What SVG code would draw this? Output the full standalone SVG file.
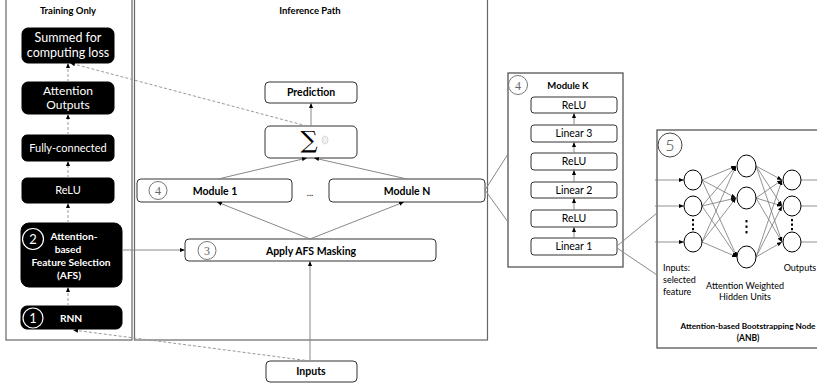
<svg xmlns="http://www.w3.org/2000/svg" width="817" height="387" viewBox="0 0 817 387">
<style>
text{font-family:Lato,"Liberation Sans",sans-serif;text-anchor:middle}
.panel{fill:#fff;stroke:#666;stroke-width:1.2}
.blk{fill:#000;stroke:#000}
.wt{fill:#fff;font-size:11px}
.wb{fill:#fff;font-size:10.2px;font-weight:bold}
.box{fill:#fff;stroke:#333;stroke-width:1}
.bt{fill:#000;font-size:10.5px;font-weight:bold}
.rt{fill:#000;font-size:10.5px}
.ttl{fill:#000;font-size:9.5px;font-weight:bold}
.sm{fill:#000;font-size:9px}
.num{fill:none;stroke:#777;stroke-width:1}
.numt{fill:#666;font-family:"Liberation Serif",serif;font-size:12px}
.ln{fill:none;stroke:#888;stroke-width:1}
.dl{fill:none;stroke:#999;stroke-width:1;stroke-dasharray:3 2}
.nn{fill:#fff;stroke:#000;stroke-width:1}
.nl{fill:none;stroke:#777;stroke-width:0.8}
.dot{fill:#000}
</style>
<defs>
<marker id="ah" viewBox="0 0 10 10" refX="10" refY="5" markerWidth="5" markerHeight="5" markerUnits="userSpaceOnUse" orient="auto"><path d="M0,1 L10,5 L0,9 z" fill="#000"/></marker>
</defs>
<rect x="0" y="0" width="817" height="387" fill="#fff"/>

<g id="panel-training">
<rect class="panel" x="6" y="-2" width="126" height="342"/>
<text class="ttl" x="68" y="14">Training Only</text>
</g>
<g id="panel-inference">
<rect class="panel" x="134.5" y="-2" width="353" height="342"/>
<text class="ttl" x="310" y="14">Inference Path</text>
</g>

<g id="summed">
<rect class="blk" x="22" y="28" width="92" height="35" rx="6"/>
<text class="wt" x="68" y="42" style="font-size:12.5px">Summed for</text>
<text class="wt" x="68" y="57" style="font-size:12.5px">computing loss</text>
</g>
<g id="attention-outputs">
<rect class="blk" x="22" y="82" width="92" height="32" rx="6"/>
<text class="wt" x="68" y="95" style="font-size:12px">Attention</text>
<text class="wt" x="68" y="109" style="font-size:12px">Outputs</text>
</g>
<g id="fully-connected">
<rect class="blk" x="22" y="135" width="92" height="26" rx="5"/>
<text class="wt" x="68" y="152">Fully-connected</text>
</g>
<g id="relu-left">
<rect class="blk" x="22" y="178" width="92" height="25" rx="5"/>
<text class="wt" x="68" y="194">ReLU</text>
</g>
<g id="afs">
<rect class="blk" x="21" y="223" width="101" height="64" rx="8"/>
<circle cx="33" cy="239" r="10.5" fill="none" stroke="#fff" stroke-width="1.2"/>
<text class="wt" x="33" y="244" style="font-size:13px">2</text>
<text class="wb" x="74" y="240">Attention-</text>
<text class="wb" x="68" y="253">based</text>
<text class="wb" x="71" y="266">Feature Selection</text>
<text class="wb" x="69" y="279">(AFS)</text>
</g>
<g id="rnn">
<rect class="blk" x="21" y="306" width="101" height="23" rx="6"/>
<circle cx="33" cy="318" r="10" fill="none" stroke="#fff" stroke-width="1.2"/>
<text class="wt" x="33" y="323" style="font-size:13px">1</text>
<text class="wb" x="71" y="322">RNN</text>
</g>

<g id="prediction">
<rect class="box" x="265" y="82" width="92" height="21" rx="4"/>
<text class="bt" x="311" y="96">Prediction</text>
</g>
<g id="sum">
<rect class="box" x="265" y="126" width="92" height="32" rx="5"/>
<text x="309" y="148" style="font-family:'DejaVu Serif',serif;font-size:24px;fill:#000">∑</text>
<ellipse cx="325" cy="140" rx="3" ry="4" fill="none" stroke="#ccc" stroke-width="0.8"/>
<ellipse cx="325" cy="140" rx="1.4" ry="2.6" fill="none" stroke="#ccc" stroke-width="0.6"/>
</g>
<g id="module-1">
<rect class="box" x="137" y="179" width="155" height="23" rx="4"/>
<circle class="num" cx="158" cy="190.5" r="9"/>
<text class="numt" x="158" y="195">4</text>
<text class="bt" x="215" y="195">Module 1</text>
</g>
<g id="ellipsis">
<text class="sm" x="310" y="196">...</text>
</g>
<g id="module-n">
<rect class="box" x="329" y="179" width="156" height="23" rx="4"/>
<text class="bt" x="407" y="195">Module N</text>
</g>
<g id="apply-afs">
<rect class="box" x="185" y="239" width="251" height="22" rx="4"/>
<circle class="num" cx="207" cy="250.5" r="9"/>
<text class="numt" x="207" y="255">3</text>
<text class="bt" x="311" y="255">Apply AFS Masking</text>
</g>
<g id="inputs">
<rect class="box" x="266" y="361" width="91" height="21" rx="4"/>
<text class="bt" x="311" y="375">Inputs</text>
</g>

<g id="module-k">
<rect x="508" y="73" width="115" height="194" fill="#fff" stroke="#555" stroke-width="1.3"/>
<circle class="num" cx="518" cy="85" r="9.5"/>
<text class="numt" x="518" y="89.5">4</text>
<text class="ttl" x="568" y="89">Module K</text>
<rect class="box" x="531" y="97" width="86" height="16" rx="3"/>
<text class="rt" x="574" y="108.5">ReLU</text>
<rect class="box" x="531" y="125" width="86" height="17" rx="3"/>
<text class="rt" x="574" y="137">Linear 3</text>
<rect class="box" x="531" y="153" width="86" height="17" rx="3"/>
<text class="rt" x="574" y="165">ReLU</text>
<rect class="box" x="531" y="182" width="86" height="16" rx="3"/>
<text class="rt" x="574" y="193.5">Linear 2</text>
<rect class="box" x="531" y="210" width="86" height="17" rx="3"/>
<text class="rt" x="574" y="222">ReLU</text>
<rect class="box" x="531" y="238" width="86" height="17" rx="3"/>
<text class="rt" x="574" y="250">Linear 1</text>
</g>

<g id="anb">
<rect x="657" y="130" width="170" height="218" fill="#fff" stroke="#555" stroke-width="1.3"/>
<circle cx="670" cy="145" r="12" fill="none" stroke="#444" stroke-width="1"/>
<text x="670" y="151" style="font-size:16px;fill:#444;font-weight:300">5</text>
<g id="anb-edges">
<line class="nl" x1="702" y1="180" x2="736" y2="166" marker-end="url(#ah)"/>
<line class="nl" x1="702" y1="180" x2="736" y2="198" marker-end="url(#ah)"/>
<line class="nl" x1="702" y1="180" x2="737" y2="257" marker-end="url(#ah)"/>
<line class="nl" x1="702" y1="206" x2="736" y2="166" marker-end="url(#ah)"/>
<line class="nl" x1="702" y1="206" x2="736" y2="198" marker-end="url(#ah)"/>
<line class="nl" x1="702" y1="206" x2="737" y2="257" marker-end="url(#ah)"/>
<line class="nl" x1="702" y1="242" x2="736" y2="166" marker-end="url(#ah)"/>
<line class="nl" x1="702" y1="242" x2="736" y2="198" marker-end="url(#ah)"/>
<line class="nl" x1="702" y1="242" x2="737" y2="257" marker-end="url(#ah)"/>
<line class="nl" x1="756" y1="166" x2="782" y2="180" marker-end="url(#ah)"/>
<line class="nl" x1="756" y1="166" x2="782" y2="206" marker-end="url(#ah)"/>
<line class="nl" x1="756" y1="166" x2="782" y2="242" marker-end="url(#ah)"/>
<line class="nl" x1="756" y1="198" x2="782" y2="180" marker-end="url(#ah)"/>
<line class="nl" x1="756" y1="198" x2="782" y2="206" marker-end="url(#ah)"/>
<line class="nl" x1="756" y1="198" x2="782" y2="242" marker-end="url(#ah)"/>
<line class="nl" x1="756" y1="257" x2="782" y2="180" marker-end="url(#ah)"/>
<line class="nl" x1="756" y1="257" x2="782" y2="206" marker-end="url(#ah)"/>
<line class="nl" x1="756" y1="257" x2="782" y2="242" marker-end="url(#ah)"/>
<line class="nl" x1="655" y1="180" x2="684" y2="180" marker-end="url(#ah)"/>
<line class="nl" x1="655" y1="206" x2="684" y2="206" marker-end="url(#ah)"/>
<line class="nl" x1="655" y1="242" x2="684" y2="242" marker-end="url(#ah)"/>
<line class="nl" x1="801" y1="180" x2="817" y2="180"/>
<line class="nl" x1="801" y1="206" x2="817" y2="206"/>
<line class="nl" x1="801" y1="242" x2="817" y2="242"/>
</g>
<ellipse class="nn" cx="693" cy="180" rx="9" ry="10"/>
<ellipse class="nn" cx="693" cy="206" rx="9" ry="10"/>
<ellipse class="nn" cx="693" cy="242" rx="9" ry="10"/>
<ellipse class="nn" cx="746.5" cy="166" rx="9.5" ry="11"/>
<ellipse class="nn" cx="746.5" cy="198" rx="9.5" ry="11"/>
<ellipse class="nn" cx="746.5" cy="257" rx="9.5" ry="11"/>
<ellipse class="nn" cx="792" cy="180" rx="9" ry="10"/>
<ellipse class="nn" cx="792" cy="206" rx="9" ry="10"/>
<ellipse class="nn" cx="792" cy="242" rx="9" ry="10"/>
<rect class="dot" x="692" y="219" width="2" height="2.2"/>
<rect class="dot" x="692" y="223.5" width="2" height="2.2"/>
<rect class="dot" x="692" y="228" width="2" height="2.2"/>
<rect class="dot" x="745.5" y="220" width="2" height="2.4"/>
<rect class="dot" x="745.5" y="225.5" width="2" height="2.4"/>
<rect class="dot" x="745.5" y="231" width="2" height="2.4"/>
<rect class="dot" x="791" y="219" width="2" height="2.2"/>
<rect class="dot" x="791" y="223.5" width="2" height="2.2"/>
<rect class="dot" x="791" y="228" width="2" height="2.2"/>
<text class="sm" x="663" y="271" style="text-anchor:start">Inputs:</text>
<text class="sm" x="663" y="283" style="text-anchor:start">selected</text>
<text class="sm" x="663" y="295" style="text-anchor:start">feature</text>
<text class="sm" x="745" y="289">Attention Weighted</text>
<text class="sm" x="745" y="300">Hidden Units</text>
<text class="sm" x="800" y="271">Outputs</text>
<text class="sm" x="748" y="329" style="font-weight:bold;font-size:8.2px">Attention-based Bootstrapping Node</text>
<text class="sm" x="748" y="341" style="font-weight:bold;font-size:8.5px">(ANB)</text>
</g>

<g id="connectors">
<line class="dl" x1="68" y1="306" x2="68" y2="287" marker-end="url(#ah)"/>
<line class="dl" x1="68" y1="223" x2="68" y2="203" marker-end="url(#ah)"/>
<line class="dl" x1="68" y1="178" x2="68" y2="161" marker-end="url(#ah)"/>
<line class="dl" x1="68" y1="135" x2="68" y2="114" marker-end="url(#ah)"/>
<line class="dl" x1="68" y1="82" x2="68" y2="63" marker-end="url(#ah)"/>
<line class="dl" x1="307" y1="126" x2="70" y2="63" marker-end="url(#ah)"/>
<line class="dl" x1="310" y1="361" x2="73" y2="330" marker-end="url(#ah)"/>
<line class="ln" x1="310" y1="361" x2="310" y2="261" marker-end="url(#ah)"/>
<line class="ln" x1="122" y1="250" x2="185" y2="250" marker-end="url(#ah)"/>
<line class="ln" x1="310" y1="239" x2="217" y2="202" marker-end="url(#ah)"/>
<line class="ln" x1="310" y1="239" x2="404" y2="202" marker-end="url(#ah)"/>
<line class="ln" x1="218" y1="179" x2="307" y2="158" marker-end="url(#ah)"/>
<line class="ln" x1="407" y1="179" x2="314" y2="158" marker-end="url(#ah)"/>
<line class="ln" x1="311" y1="126" x2="311" y2="103" marker-end="url(#ah)"/>
<line class="ln" x1="485" y1="190" x2="508" y2="154"/>
<line class="ln" x1="485" y1="190" x2="508" y2="222"/>
<line class="ln" x1="617" y1="246" x2="657" y2="213"/>
<line class="ln" x1="617" y1="248" x2="657" y2="275"/>
<line class="ln" x1="574" y1="238" x2="574" y2="227" marker-end="url(#ah)"/>
<line class="ln" x1="574" y1="210" x2="574" y2="198" marker-end="url(#ah)"/>
<line class="ln" x1="574" y1="182" x2="574" y2="170" marker-end="url(#ah)"/>
<line class="ln" x1="574" y1="153" x2="574" y2="142" marker-end="url(#ah)"/>
<line class="ln" x1="574" y1="125" x2="574" y2="113" marker-end="url(#ah)"/>
</g>
</svg>
